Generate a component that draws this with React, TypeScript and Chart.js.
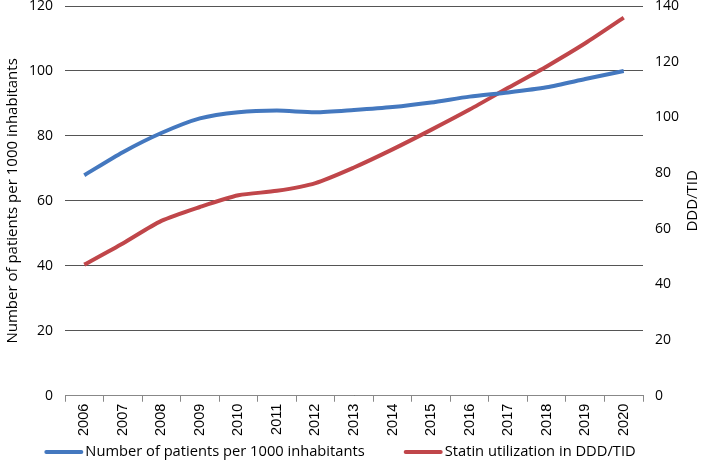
import React, { useEffect, useRef } from "react";
import { Chart, registerables } from "chart.js";

Chart.register(...registerables);

const years = ["2006","2007","2008","2009","2010","2011","2012","2013","2014","2015","2016","2017","2018","2019","2020"];
const patients = [67.9, 75.0, 80.9, 85.4, 87.3, 87.8, 87.3, 88.0, 88.9, 90.3, 92.1, 93.4, 95.0, 97.5, 100.0];
const statin = [47.1, 54.7, 62.8, 67.8, 72.0, 73.6, 76.4, 82.0, 88.5, 95.5, 102.8, 110.6, 118.3, 126.6, 135.8];
const leftTicks = [0, 20, 40, 60, 80, 100, 120];
const rightTicks = [0, 20, 40, 60, 80, 100, 120, 140];
const rightTitle = "DDD/TID";

const BLUE = "#4478bf";
const RED = "#c0464a";
const FONT = "'Open Sans', 'Noto Sans', sans-serif";

const rightTitlePlugin = {
  id: "rightTitle",
  afterDraw(chart: any) {
    const { ctx, chartArea } = chart;
    ctx.save();
    ctx.font = `15px ${FONT}`;
    ctx.fillStyle = "#000";
    ctx.textAlign = "center";
    ctx.textBaseline = "middle";
    ctx.translate(693, (chartArea.top + chartArea.bottom) / 2);
    ctx.rotate(-Math.PI / 2);
    ctx.fillText(rightTitle, 0, 0);
    ctx.restore();
  },
};

const legendPlugin = {
  id: "customLegend",
  afterDraw(chart: any) {
    const { ctx } = chart;
    const ds = chart.data.datasets;
    ctx.save();
    ctx.font = `14.7px ${FONT}`;
    const lineW = 39;
    const gapText = 2;
    const gapItems = 39;
    const widths = ds.map((d: any) => ctx.measureText(d.label).width);
    const total = ds.reduce((s: number, _d: any, i: number) => s + lineW + gapText + widths[i], 0) + gapItems * (ds.length - 1);
    let x = 340 - total / 2;
    const y = 452;
    ds.forEach((d: any, i: number) => {
      ctx.strokeStyle = d.borderColor;
      ctx.lineWidth = 4;
      ctx.lineCap = "round";
      ctx.beginPath();
      ctx.moveTo(x + 2, y);
      ctx.lineTo(x + lineW - 2, y);
      ctx.stroke();
      ctx.fillStyle = "#000";
      ctx.textAlign = "left";
      ctx.textBaseline = "middle";
      ctx.fillText(d.label, x + lineW + gapText, y);
      x += lineW + gapText + widths[i] + gapItems;
    });
    ctx.restore();
  },
};

export default function App() {
  const ref = useRef<HTMLCanvasElement>(null);
  useEffect(() => {
    document.body.style.margin = "0";
    const ctx = ref.current!;
    const chart = new Chart(ctx, {
      type: "line",
      data: {
        labels: years,
        datasets: [
          {
            label: "Number of patients per 1000 inhabitants",
            data: patients,
            borderColor: BLUE,
            backgroundColor: BLUE,
            borderWidth: 4,
            pointRadius: 0,
            tension: 0.25,
            yAxisID: "y",
          },
          {
            label: "Statin utilization in DDD/TID",
            data: statin,
            borderColor: RED,
            backgroundColor: RED,
            borderWidth: 4,
            pointRadius: 0,
            tension: 0.25,
            yAxisID: "y1",
          },
        ],
      },
      plugins: [rightTitlePlugin, legendPlugin],
      options: {
        animation: false,
        responsive: false,
        maintainAspectRatio: false,
        layout: { padding: { left: 0, right: 22, top: 6, bottom: 26 } },
        plugins: {
          tooltip: { enabled: false },
          legend: { display: false },
        },
        scales: {
          x: {
            offset: true,
            afterFit: (axis: any) => { axis.paddingLeft = 0; axis.paddingRight = 0; },
            grid: { display: true, drawOnChartArea: false, drawTicks: true, tickLength: 6, color: "#888", offset: true },
            border: { display: true, color: "#888" },
            ticks: {
              minRotation: 90,
              maxRotation: 90,
              color: "#000",
              padding: 2,
              font: { family: "'Liberation Sans', Arial, sans-serif", size: 14.5 },
            },
          },
          y: {
            position: "left",
            min: 0,
            max: 120,
            afterBuildTicks: (axis: any) => { axis.ticks = leftTicks.map((v) => ({ value: v })); },
            afterFit: (axis: any) => { axis.paddingTop = 0; axis.paddingBottom = 0; axis.width = 65; },
            grid: { color: "#555", lineWidth: 1, drawTicks: false },
            border: { display: false },
            ticks: { color: "#000", padding: 12, font: { family: FONT, size: 14 } },
            title: { display: true, text: "Number of patients per 1000 inhabitants", color: "#000", padding: 4, font: { family: FONT, size: 15 } },
          },
          y1: {
            position: "right",
            min: 0,
            max: 140,
            afterBuildTicks: (axis: any) => { axis.ticks = rightTicks.map((v) => ({ value: v })); },
            afterFit: (axis: any) => { axis.paddingTop = 0; axis.paddingBottom = 0; axis.width = 39; },
            grid: { drawOnChartArea: false, drawTicks: false },
            border: { display: false },
            ticks: { color: "#000", padding: 12, font: { family: FONT, size: 14 } },
          },
        },
      },
    });
    return () => chart.destroy();
  }, []);
  return (
    <div style={{ width: 704, height: 464 }}>
      <canvas ref={ref} width={704} height={464} style={{ width: 704, height: 464 }} />
    </div>
  );
}
